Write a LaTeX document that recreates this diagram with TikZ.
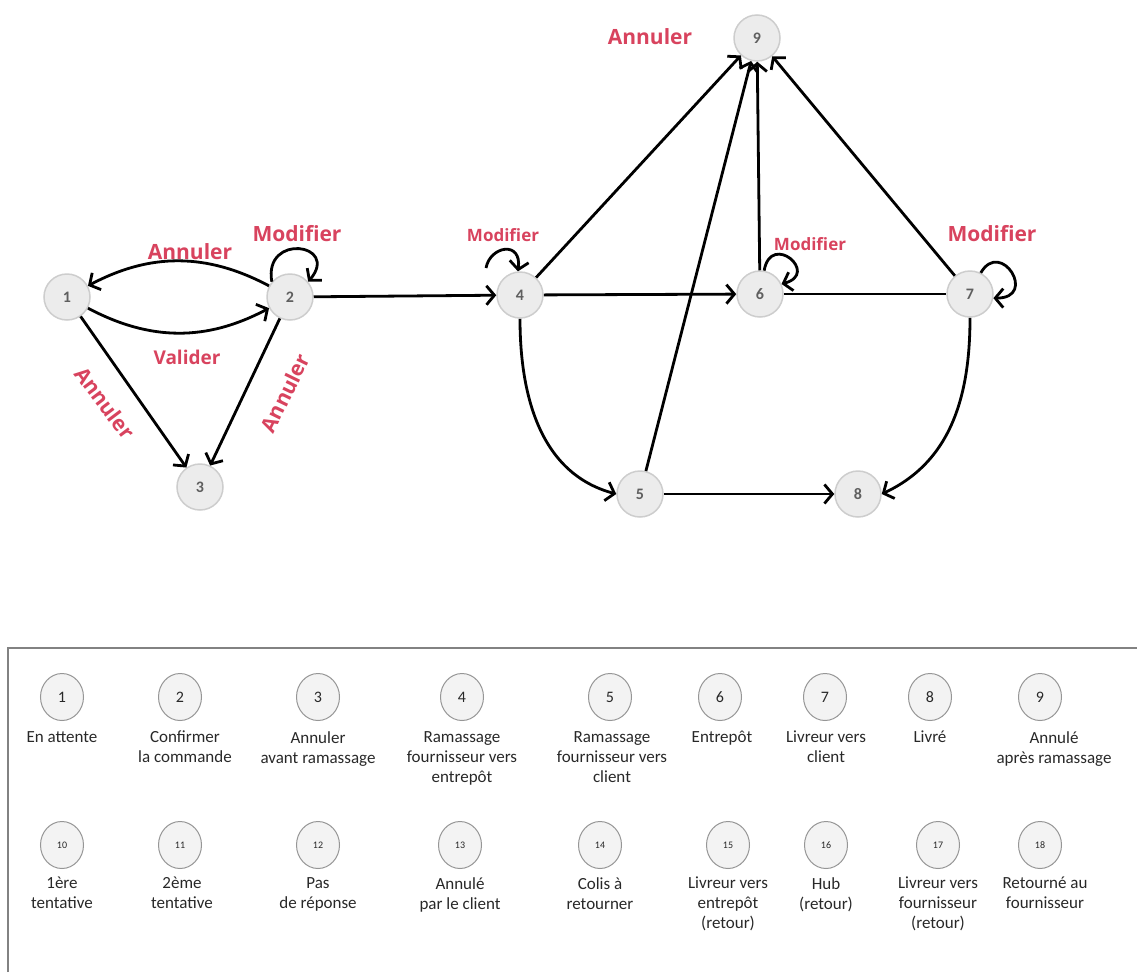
\documentclass[tikz,border=0pt]{standalone}
\usepackage{fontspec}
\setmainfont{Carlito}
\newfontfamily\tagfont{Open Sans}
\usetikzlibrary{arrows.meta,shapes.geometric}
\definecolor{nodefill}{RGB}{236,236,236}
\definecolor{nodeborder}{RGB}{205,205,205}
\definecolor{numgray}{RGB}{95,95,95}
\definecolor{tagred}{RGB}{216,67,94}
\definecolor{keyfill}{RGB}{243,243,243}
\definecolor{keyborder}{RGB}{150,150,150}
\definecolor{keytextcol}{RGB}{40,40,40}
\definecolor{framecol}{RGB}{130,130,130}

\begin{document}
\begin{tikzpicture}[x=1pt,y=1pt,
  state/.style={circle, minimum size=46pt, inner sep=0pt, fill=nodefill,
    draw=nodeborder, line width=1.5pt, text=numgray,
    font=\bfseries\fontsize{16}{16}\selectfont},
  edge/.style={line width=2.8pt, -{Straight Barb[length=8pt,width=19pt]}},
  plainedge/.style={line width=2.8pt},
  tag/.style={text=tagred, inner sep=0pt,
    font=\tagfont\bfseries\fontsize{21}{21}\selectfont},
  smalltag/.style={text=tagred, inner sep=0pt,
    font=\tagfont\bfseries\fontsize{17}{17}\selectfont},
  key/.style={ellipse, minimum width=43pt, minimum height=47pt, inner sep=0pt,
    fill=keyfill, draw=keyborder, line width=1pt, text=keytextcol,
    font=\fontsize{16}{16}\selectfont},
  smallkey/.style={key, font=\fontsize{10}{10}\selectfont},
  keytext/.style={align=center, anchor=north, inner sep=0pt, text=keytextcol,
    font=\fontsize{17}{20}\selectfont}
]
\useasboundingbox (0,0) rectangle (1137,-972);

% ---- states of the order workflow ----
\node[state] (n1) at (67,-297) {1};
\node[state] (n2) at (290,-297) {2};
\node[state] (n3) at (200,-487) {3};
\node[state] (n4) at (520,-295) {4};
\node[state] (n5) at (640,-494) {5};
\node[state] (n6) at (760,-294) {6};
\node[state] (n7) at (970,-294) {7};
\node[state] (n8) at (858,-494) {8};
\node[state] (n9) at (757,-38) {9};

% ---- transitions ----
\draw[edge] (n2) to[bend right=28] (n1);
\draw[edge] (n1) to[bend right=28] (n2);
\draw[edge] (n1) -- (n3);
\draw[edge] (n2) -- (n3);
\draw[edge] (n2) -- (n4);
\draw[edge] (n4) -- (n6);
\draw[plainedge] (n6) -- (n7);
\draw[edge] (n5) -- (n8);
\draw[edge] (n4) -- (n9);
\draw[edge] (n5) -- (n9);
\draw[edge] (n6) -- (n9);
\draw[edge] (n7) -- (n9);
\draw[edge] (n4.south) to[out=-90,in=165] (n5.west);
\draw[edge] (n7.south) to[out=-90,in=25] (n8.east);

% self loops
\draw[edge] (n2.140) .. controls +(100:50) and +(50:50) .. (n2.40);
\coordinate (l4) at (486,-268);
\draw[edge] (l4) .. controls (490,-246) and (522,-240) .. (n4.95);
\draw[edge] (n6.80) .. controls +(80:40) and +(15:40) .. (n6.25);
\draw[edge] (n7.63) .. controls +(60:40) and +(0:45) .. (n7.-10);

% ---- transition labels ----
\node[tag] (tA12) at (190,-252) {Annuler};
\node[tag] (tM2) at (297,-234) {Modifier};
\node[tag, font=\tagfont\bfseries\fontsize{19}{19}\selectfont] (tV) at (187,-357) {Valider};
\node[tag, rotate=-53] (tA13) at (105,-403) {Annuler};
\node[tag, rotate=64] (tA23) at (285,-393) {Annuler};
\node[tag] (tA9) at (650,-37) {Annuler};
\node[smalltag] (tM4) at (503,-235) {Modifier};
\node[smalltag] (tM6) at (810,-244) {Modifier};
\node[tag] (tM7) at (992,-234) {Modifier};

% ---- legend ----
\draw[framecol, line width=1.2pt] (8,-972) -- (8,-648) -- (1137,-648);

\node[key] (k1) at (62,-697) {1};
\node[key] (k2) at (180,-697) {2};
\node[key] (k3) at (318,-697) {3};
\node[key] (k4) at (462,-697) {4};
\node[key] (k5) at (610,-697) {5};
\node[key] (k6) at (720,-697) {6};
\node[key] (k7) at (825,-697) {7};
\node[key] (k8) at (930,-697) {8};
\node[key] (k9) at (1040,-697) {9};

\node[keytext] (t1) at (62,-731) {En attente};
\node[keytext] (t2) at (185,-731) {Confirmer\\la commande};
\node[keytext] (t3) at (318,-731) {Annuler\\avant ramassage};
\node[keytext] (t4) at (462,-731) {Ramassage\\fournisseur vers\\entrepôt};
\node[keytext] (t5) at (612,-731) {Ramassage\\fournisseur vers\\client};
\node[keytext] (t6) at (722,-731) {Entrepôt};
\node[keytext] (t7) at (826,-731) {Livreur vers\\client};
\node[keytext] (t8) at (930,-731) {Livré};
\node[keytext] (t9) at (1054,-731) {Annulé\\après ramassage};

\node[smallkey] (k10) at (62,-845) {10};
\node[smallkey] (k11) at (180,-845) {11};
\node[smallkey] (k12) at (318,-845) {12};
\node[smallkey] (k13) at (460,-845) {13};
\node[smallkey] (k14) at (600,-845) {14};
\node[smallkey] (k15) at (728,-845) {15};
\node[smallkey] (k16) at (826,-845) {16};
\node[smallkey] (k17) at (938,-845) {17};
\node[smallkey] (k18) at (1040,-845) {18};

\node[keytext] (t10) at (62,-877) {1ère\\tentative};
\node[keytext] (t11) at (182,-877) {2ème\\tentative};
\node[keytext] (t12) at (318,-877) {Pas\\de réponse};
\node[keytext] (t13) at (460,-877) {Annulé\\par le client};
\node[keytext] (t14) at (600,-877) {Colis à\\retourner};
\node[keytext] (t15) at (728,-877) {Livreur vers\\entrepôt\\(retour)};
\node[keytext] (t16) at (826,-877) {Hub\\(retour)};
\node[keytext] (t17) at (938,-877) {Livreur vers\\fournisseur\\(retour)};
\node[keytext] (t18) at (1045,-877) {Retourné au\\fournisseur};
\end{tikzpicture}
\end{document}
